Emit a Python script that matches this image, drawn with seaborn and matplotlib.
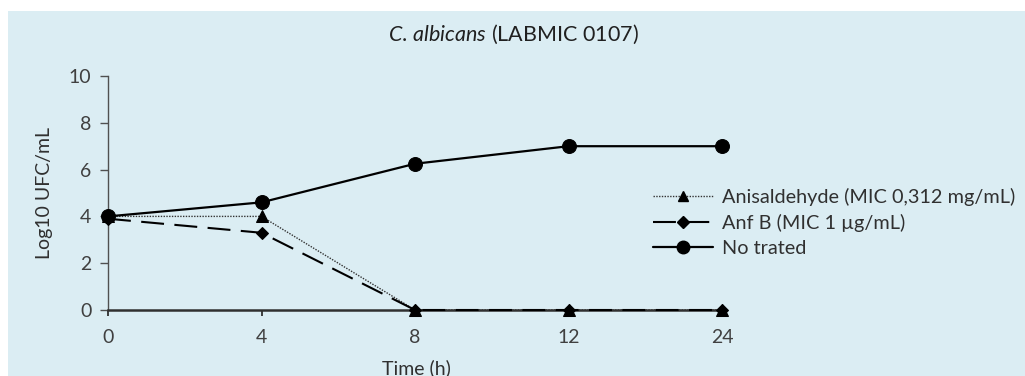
import pandas as pd
import matplotlib.pyplot as plt
import seaborn as sns
from matplotlib.patches import Rectangle
from matplotlib.lines import Line2D

# Data
time_labels = ['0', '4', '8', '12', '24']
anisaldehyde = [4.0, 4.0, 0.0, 0.0, 0.0]
anf_b = [3.9, 3.3, 0.0, 0.0, 0.0]
no_trated = [4.0, 4.6, 6.25, 7.0, 7.0]
series_names = ['Anisaldehyde (MIC 0,312 mg/mL)', 'Anf B (MIC 1 µg/mL)', 'No trated']

sns.set_theme(style="ticks")
plt.rcParams['font.family'] = ['Lato', 'DejaVu Sans']
plt.rcParams['mathtext.fontset'] = 'custom'
plt.rcParams['mathtext.it'] = 'Lato:italic'
plt.rcParams['mathtext.rm'] = 'Lato'

bg = '#DBEDF3'
grey = '#404040'

# Long-form table, x as category position
df = pd.DataFrame({
    'pos': list(range(len(time_labels))) * 3,
    'value': anisaldehyde + anf_b + no_trated,
    'series': [n for n in series_names for _ in time_labels],
})

fig = plt.figure(figsize=(10.25, 3.76), dpi=100, facecolor='white')
fig.patches.append(Rectangle((8 / 1025, 0), 1 - 8 / 1025, 365 / 376,
                             transform=fig.transFigure, facecolor=bg,
                             edgecolor='none', zorder=-10))

ax = fig.add_axes([108 / 1025, 66 / 376, 614 / 1025, 234 / 376])
ax.set_facecolor('none')

styles = {
    series_names[0]: dict(marker='^', linestyle=(0, (1, 1)), lw=1.0, ms=8.5, color='#333333'),
    series_names[1]: dict(marker='D', linestyle=(0, (11, 5)), lw=1.5, ms=6.5, color='black'),
    series_names[2]: dict(marker='o', linestyle='-', lw=1.6, ms=10, color='black'),
}

for name in series_names:
    st = styles[name]
    sub = df[df['series'] == name]
    sns.lineplot(data=sub, x='pos', y='value', ax=ax, marker=st['marker'],
                 linestyle=st['linestyle'], linewidth=st['lw'], markersize=st['ms'],
                 color=st['color'], markeredgecolor='black', markerfacecolor='black',
                 clip_on=False, legend=False, zorder=3)

ax.set_xlim(0, len(time_labels) - 1)
ax.set_ylim(0, 10)
ax.set_xticks(range(len(time_labels)))
ax.set_xticklabels(time_labels)
ax.set_yticks(range(0, 11, 2))
ax.set_xlabel('')
ax.set_ylabel('Log10 UFC/mL', fontsize=14, color='#303030', labelpad=11)

for s in ['top', 'right']:
    ax.spines[s].set_visible(False)
ax.spines['left'].set_color('#505050')
ax.spines['left'].set_linewidth(1.0)
ax.spines['bottom'].set_color('#303030')
ax.spines['bottom'].set_linewidth(1.8)
ax.tick_params(axis='y', length=6, width=1, colors='#505050', labelcolor=grey,
               labelsize=14, pad=6)
ax.tick_params(axis='x', length=4, width=1.3, colors='#303030', labelcolor=grey,
               labelsize=14, pad=10)

fig.text(513 / 1025, 1 - 34 / 376, r'$\it{C.}\,\it{albicans}$ (LABMIC 0107)',
         ha='center', va='center', fontsize=15.5, color='#202020')
fig.text(416 / 1025, 1 - 368 / 376, 'Time (h)', ha='center', va='center',
         fontsize=14, color='#303030')

handles = [Line2D([], [], color=styles[n]['color'], linestyle=styles[n]['linestyle'],
                  linewidth=styles[n]['lw'], marker=styles[n]['marker'],
                  markersize=styles[n]['ms'] * 0.9, markerfacecolor='black',
                  markeredgecolor='black') for n in series_names]
fig.legend(handles, series_names, loc='center left',
           bbox_to_anchor=(653 / 1025, 1 - 222 / 376), frameon=False,
           fontsize=14.3, handlelength=3.0, handletextpad=0.45, labelspacing=0.4,
           labelcolor='#303030', borderaxespad=0, borderpad=0)

fig.savefig('out.png', dpi=100)
